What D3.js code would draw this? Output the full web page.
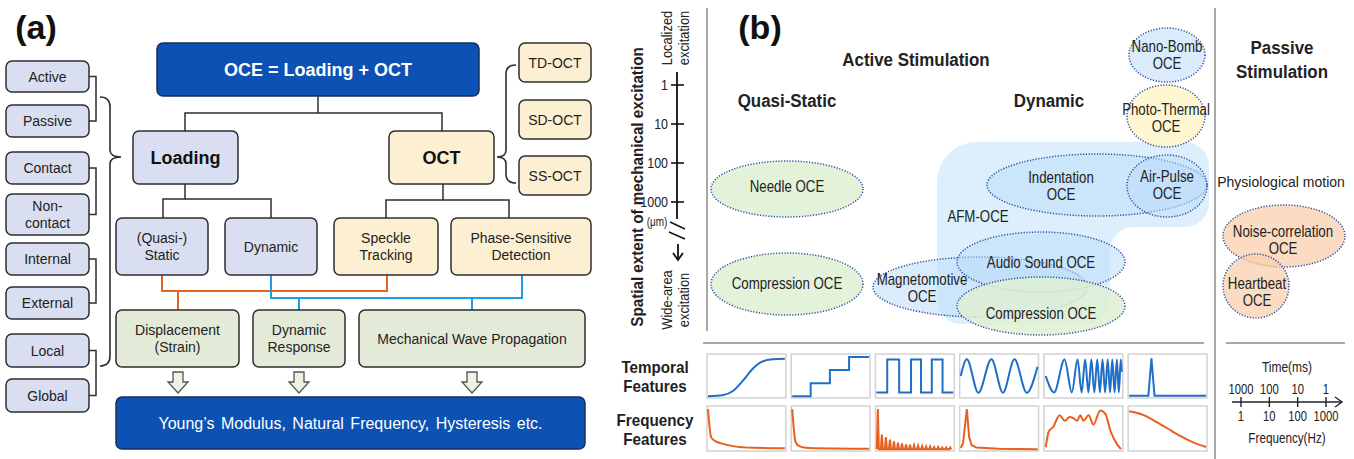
<!DOCTYPE html>
<html><head><meta charset="utf-8">
<script src="https://cdn.jsdelivr.net/npm/d3@7"></script>
<style>
html,body{margin:0;padding:0;background:#fff;}
svg{display:block;}
</style></head><body>
<svg id="fig" width="1354" height="459"></svg>
<script>
// ---------------- data ----------------
const factorLabels = ["Active", "Passive", "Contact", "Non-\ncontact", "Internal", "External", "Local", "Global"];
const octTypes = ["TD-OCT", "SD-OCT", "SS-OCT"];
const loadingModes = ["(Quasi-)\nStatic", "Dynamic"];
const detectionModes = ["Speckle\nTracking", "Phase-Sensitive\nDetection"];
const measurements = ["Displacement\n(Strain)", "Dynamic\nResponse", "Mechanical Wave Propagation"];
const outcome = "Young’s Modulus, Natural Frequency, Hysteresis etc.";

const extentTicks = [1, 10, 100, 1000];          // μm
const timeTicks = [1000, 100, 10, 1];             // ms
const freqTicks = [1, 10, 100, 1000];             // Hz

const methodNames = ["Needle OCE", "Compression OCE", "Magnetomotive\nOCE", "Audio Sound OCE",
  "Compression OCE", "Indentation\nOCE", "Air-Pulse\nOCE", "Nano-Bomb\nOCE", "Photo-Thermal\nOCE",
  "Noise-correlation\nOCE", "Heartbeat\nOCE"];
const methodKinds = ["static", "static", "dynamic", "dynamic", "static", "dynamic", "dynamic",
  "dynamic", "thermal", "passive", "passive"];

const signalNames = ["ramp", "step", "square", "sine", "chirp", "pulse"];
// temporal waveforms: [normalised time, normalised amplitude]
const temporalRamp = [[0, .02], [.2, .05], [.33, .15], [.46, .4], [.57, .65], [.69, .83], [.84, .9], [1, .91]];
const temporalStep = [[0, .02], [.24, .33], [.49, .64], [.74, .95], [1, .95]];
const temporalSquare = [[0, .11], [.14, .89], [.295, .11], [.45, .89], [.58, .11], [.72, .89], [.86, .11], [1, .11]];
const temporalSine = [[0, .5], [.08, .9], [.23, .1], [.4, .9], [.55, .1], [.7, .9], [.86, .1], [1, .72]];
const temporalChirp = [[.01, .5], [.12, .11], [.255, .89], [.35, .11], [.425, .89], [.477, .11], [.523, .89],
  [.566, .11], [.604, .89], [.643, .11], [.681, .89], [.715, .11], [.749, .89], [.783, .11], [.817, .89],
  [.847, .11], [.877, .89], [.906, .11], [.936, .89], [.962, .11], [.987, .89], [1, .6]];
const temporalPulse = [[0, .03], [.25, .03], [.29, .92], [.33, .03], [1, .03]];
// frequency spectra: [normalised frequency, normalised magnitude]
const spectrumRamp = [[0, .95], [.04, .3], [.1, .2], [.16, .16], [.33, .09], [.59, .05], [1, .04]];
const spectrumStep = [[0, .95], [.02, .5], [.04, .2], [.08, .1], [.15, .06], [.3, .04], [1, .03]];
const squareHarmonics = [.95, .36, .3, .24, .2, .17, .15, .13, .12, .11, .1, .09, .08, .08, .07, .07, .06, .06, .06];
const spectrumSine = [[0, .05], [.03, .15], [.08, .95], [.11, .3], [.14, .12], [.2, .06], [.5, .03], [1, .02]];
const spectrumChirp = [[.01, .06], [.05, .43], [.11, .54], [.19, .81], [.26, .68], [.32, .77], [.37, .74], [.42, .68],
  [.46, .81], [.5, .68], [.57, .81], [.63, .59], [.72, .92], [.79, .83], [.85, .46], [.94, .13], [.99, .02]];
const spectrumPulse = [[0, .9], [.16, .83], [.33, .68], [.5, .5], [.67, .32], [.84, .17], [1, .07]];

// ---------------- drawing ----------------
const svg = d3.select("#fig");
svg.append("rect").attr("width", 1354).attr("height", 459).attr("fill", "#fff");
const FA = "'Liberation Sans', Arial, Helvetica, sans-serif";
const INK = "#222";
const C = {
  navy: "#0b52b4", lav: "#d9dff1", beige: "#fdf0d2", green: "#e3ebd8",
  orange: "#e2641e", sky: "#1c9cea", edge: "#2e2e2e", sep: "#a8a8a8",
  sigBlue: "#1f6fc8", sigOrange: "#e8601c"
};

// multi-line centred text; `sx` condenses the glyphs horizontally (narrow face look)
function addText(g, x, y, str, o = {}) {
  const size = o.size || 14;
  const lines = str.split("\n");
  const lh = o.lh || size * 1.2;
  const holder = g.append("g")
    .attr("transform", `translate(${x},${y}) rotate(${o.rotate || 0}) scale(${o.sx || 1},1)`);
  const t = holder.append("text").attr("x", 0).attr("y", 0)
    .attr("text-anchor", o.anchor || "middle")
    .attr("font-family", FA)
    .attr("font-size", size)
    .attr("font-weight", o.weight || "normal")
    .attr("fill", o.color || INK);
  if (o.spacing) t.attr("word-spacing", o.spacing);
  lines.forEach((ln, i) => {
    t.append("tspan").attr("x", 0)
      .attr("dy", i === 0 ? (-(lines.length - 1) / 2) * lh + size * 0.36 : lh)
      .text(ln);
  });
  return t;
}
function box(g, b, fill, label, o = {}) {
  g.append("rect").attr("x", b[0]).attr("y", b[1]).attr("width", b[2] - b[0]).attr("height", b[3] - b[1])
    .attr("rx", 6).attr("fill", fill).attr("stroke", o.stroke || C.edge).attr("stroke-width", 1.5);
  if (label) addText(g, (b[0] + b[2]) / 2, (b[1] + b[3]) / 2, label, o);
}
function poly(g, pts, color, w = 1.5) {
  g.append("path").attr("d", d3.line()(pts)).attr("fill", "none").attr("stroke", color).attr("stroke-width", w);
}

// ===== panel (a) =====
const A = svg.append("g");
addText(A, 36, 27, "(a)", { size: 34, weight: "bold", color: "#111" });

const factorBoxes = [[6, 61, 89, 92], [6, 105, 89, 137], [6, 152, 89, 184], [6, 194, 89, 235],
  [6, 243, 89, 275], [6, 287, 89, 319], [6, 334, 89, 367], [6, 379, 89, 412]];
factorLabels.forEach((lb, i) => box(A, factorBoxes[i], C.lav, lb, { size: 14, lh: 17 }));
// pair brackets
for (let i = 0; i < factorBoxes.length; i += 2) {
  const ya = (factorBoxes[i][1] + factorBoxes[i][3]) / 2, yb = (factorBoxes[i + 1][1] + factorBoxes[i + 1][3]) / 2;
  poly(A, [[89, ya], [96, ya], [96, yb], [89, yb]], C.edge);
}
// large brace toward "Loading"
A.append("path").attr("fill", "none").attr("stroke", C.edge).attr("stroke-width", 1.6)
  .attr("d", "M100,97 Q110,97 110,107 L110,150 Q110,157 121,157 Q110,157 110,164 L110,356 Q110,366 100,366");
// brace toward OCT
A.append("path").attr("fill", "none").attr("stroke", C.edge).attr("stroke-width", 1.6)
  .attr("d", "M516,65 Q506,65 506,74 L506,150 Q506,157 497,157 Q506,157 506,164 L506,174 Q506,183 516,183");

// tree connectors
poly(A, [[318, 96], [318, 113]], C.edge);
poly(A, [[185, 131], [185, 113], [442, 113], [442, 131]], C.edge);
poly(A, [[185, 184], [185, 199]], C.edge);
poly(A, [[163, 218], [163, 199], [271, 199], [271, 218]], C.edge);
poly(A, [[443, 184], [443, 200]], C.edge);
poly(A, [[386, 218], [386, 200], [509, 200], [509, 218]], C.edge);
// coloured routes
poly(A, [[162, 275], [162, 291], [387, 291], [387, 275]], C.orange, 2);
poly(A, [[178, 291], [178, 310]], C.orange, 2);
poly(A, [[271, 275], [271, 298], [522, 298], [522, 275]], C.sky, 2);
poly(A, [[299, 298], [299, 310]], C.sky, 2);
poly(A, [[472, 298], [472, 310]], C.sky, 2);

box(A, [157, 43, 479, 96], C.navy, "OCE = Loading + OCT", { size: 18, weight: "bold", color: "#fff", stroke: "#1a2f55" });
box(A, [133, 131, 238, 184], C.lav, "Loading", { size: 18, weight: "bold", color: "#111" });
box(A, [389, 131, 494, 184], C.beige, "OCT", { size: 18, weight: "bold", color: "#111" });
const octBoxes = [[519, 43, 591, 82], [519, 100, 591, 139], [519, 156, 591, 195]];
octTypes.forEach((t, i) => box(A, octBoxes[i], C.beige, t, { size: 14 }));
const loadBoxes = [[116, 218, 208, 275], [225, 218, 317, 275]];
loadingModes.forEach((t, i) => box(A, loadBoxes[i], C.lav, t, { size: 14, lh: 17 }));
const detBoxes = [[334, 218, 438, 275], [451, 218, 591, 275]];
detectionModes.forEach((t, i) => box(A, detBoxes[i], C.beige, t, { size: 14, lh: 17 }));
const measBoxes = [[116, 310, 239, 367], [253, 310, 345, 367], [359, 310, 585, 367]];
measurements.forEach((t, i) => box(A, measBoxes[i], C.green, t, { size: 14, lh: 17 }));
// hollow arrows
[178, 299, 472].forEach(cx => {
  const y0 = 372, yh = 382, y1 = 393;
  A.append("path").attr("fill", "#eef2e5").attr("stroke", "#555").attr("stroke-width", 1.3)
    .attr("d", `M${cx - 5},${y0}L${cx + 5},${y0}L${cx + 5},${yh}L${cx + 10},${yh}L${cx},${y1}L${cx - 10},${yh}L${cx - 5},${yh}Z`);
});
box(A, [116, 397, 585, 449], C.navy, outcome, { size: 16, color: "#fff", stroke: "#1a2f55", spacing: 2 });

// ===== panel (b) =====
const B = svg.append("g");
const NB = 0.89;   // condensing for bold headings
const NR = 0.83;   // condensing for regular labels
addText(B, 760, 27, "(b)", { size: 34, weight: "bold", color: "#111" });
// separators
poly(B, [[707, 8], [707, 331]], C.sep, 2);
poly(B, [[1215, 8], [1215, 459]], C.sep, 2);
poly(B, [[703, 343], [1204, 343]], C.sep, 2);
poly(B, [[1226, 343], [1345, 343]], C.sep, 2);

// spatial-extent axis
const yExt = d3.scaleLog().domain([1, 1000]).range([85, 202]);
poly(B, [[677, 72], [677, 219]], "#111", 1.8);
extentTicks.forEach(v => {
  poly(B, [[671, yExt(v)], [684, yExt(v)]], "#111", 1.6);
  addText(B, 668, yExt(v), String(v), { anchor: "end", size: 15, sx: NR });
});
addText(B, 657, 222, "(μm)", { size: 12, sx: NR });
poly(B, [[670, 222], [685, 229]], "#111", 1.4);
poly(B, [[669, 232], [685, 239]], "#111", 1.4);
poly(B, [[678, 244], [678, 258]], "#111", 1.8);
B.append("path").attr("fill", "none").attr("stroke", "#111").attr("stroke-width", 1.8)
  .attr("d", "M673,253 L678,260 L683,253");
addText(B, 637, 187, "Spatial extent of mechanical excitation", { size: 16, weight: "bold", rotate: -90, sx: 0.95 });
addText(B, 675, 38, "Localized\nexcitation", { size: 15, rotate: -90, lh: 17, sx: 0.86 });
addText(B, 675, 300, "Wide-area\nexcitation", { size: 15, rotate: -90, lh: 17, sx: 0.86 });

addText(B, 916, 59, "Active Stimulation", { size: 19, weight: "bold", sx: NB });
addText(B, 787, 100, "Quasi-Static", { size: 19, weight: "bold", sx: NB });
addText(B, 1049, 100, "Dynamic", { size: 19, weight: "bold", sx: NB });
addText(B, 1282, 59, "Passive\nStimulation", { size: 19, weight: "bold", lh: 24, sx: NB });
addText(B, 1281, 182, "Physiological motion", { size: 14 });

// AFM-OCE region
(function () {
  const x0 = 937, x1 = 1209, xm = 1110, y0 = 142, ym = 227, y1 = 324, R = 40, r = 24;
  const d = `M${x0},${y0 + R} A${R},${R} 0 0 1 ${x0 + R},${y0} L${x1 - r},${y0} A${r},${r} 0 0 1 ${x1},${y0 + r}` +
    ` L${x1},${ym - r} A${r},${r} 0 0 1 ${x1 - r},${ym} L${xm + r},${ym} A${r},${r} 0 0 0 ${xm},${ym + r}` +
    ` L${xm},${y1 - r} A${r},${r} 0 0 1 ${xm - r},${y1} L${x0 + r},${y1} A${r},${r} 0 0 1 ${x0},${y1 - r} Z`;
  B.append("path").attr("d", d).attr("fill", "#d2e9fb").attr("opacity", 0.75);
})();
addText(B, 978, 216, "AFM-OCE", { size: 16, sx: NR });

const kindFill = {
  static: ["#dff0d3", 0.85], dynamic: ["#bcdcf8", 0.55], thermal: ["#fff6d2", 1], passive: ["#f9cda8", 0.7]
};
// ellipse geometry [cx, cy, rx, ry, labelX, labelY]
const methodLayout = [
  [787, 189, 76, 28, 787, 186], [787, 284, 76, 31, 787, 283], [980, 287, 107, 30, 922, 288],
  [1041, 262, 84, 30, 1041, 262], [1041, 306, 84, 29, 1041, 313], [1097, 185, 110, 31, 1061, 186],
  [1167, 186, 40, 31, 1167, 185], [1167, 55, 38, 27, 1167, 55], [1166, 116, 39, 31, 1166, 118],
  [1284, 236, 61, 31, 1283, 240], [1256, 286, 33, 32, 1257, 292]
];
methodLayout.forEach((L, i) => {
  const [cx, cy, rx, ry] = L;
  const [fill, op] = kindFill[methodKinds[i]];
  B.append("ellipse").attr("cx", cx).attr("cy", cy).attr("rx", rx).attr("ry", ry)
    .attr("fill", fill).attr("fill-opacity", op)
    .attr("stroke", "#2f4f9f").attr("stroke-width", 1.5).attr("stroke-dasharray", "1.2 1.6");
});
methodLayout.forEach((L, i) => {
  addText(B, L[4], L[5], methodNames[i], { size: 16, lh: 17, sx: NR });
});

// feature thumbnails
const xBand = d3.scaleBand().domain(signalNames).range([707, 1207]).paddingInner(0.064);
const rows = [[354, 398], [406, 451]];
const temporal = [temporalRamp, temporalStep, temporalSquare, temporalSine, temporalChirp, temporalPulse];
const squareSpectrum = [];
const hx = d3.scaleLinear().domain([0, squareHarmonics.length]).range([0.005, 1]);
squareHarmonics.forEach((a, k) => {
  squareSpectrum.push([hx(k), .02]);
  squareSpectrum.push([hx(k + 0.25), a]);
  squareSpectrum.push([hx(k + 0.5), .02]);
});
const spectra = [spectrumRamp, spectrumStep, squareSpectrum, spectrumSine, spectrumChirp, spectrumPulse];
const tCurves = [d3.curveMonotoneX, d3.curveStepAfter, d3.curveStepAfter, d3.curveMonotoneX, d3.curveMonotoneX, d3.curveLinear];
const fCurves = [d3.curveMonotoneX, d3.curveMonotoneX, d3.curveLinear, d3.curveLinear, d3.curveMonotoneX, d3.curveMonotoneX];

signalNames.forEach((s, i) => {
  const x0 = xBand(s), x1 = x0 + xBand.bandwidth();
  [[temporal[i], tCurves[i], C.sigBlue, rows[0]], [spectra[i], fCurves[i], C.sigOrange, rows[1]]].forEach(([data, curve, col, r]) => {
    B.append("rect").attr("x", x0).attr("y", r[0]).attr("width", x1 - x0).attr("height", r[1] - r[0])
      .attr("fill", "#fff").attr("stroke", "#d2d2d2").attr("stroke-width", 1.5);
    const sx = d3.scaleLinear().domain([0, 1]).range([x0 + 1, x1 - 1]);
    const sy = d3.scaleLinear().domain([0, 1]).range([r[1] - 1, r[0] + 1]);
    B.append("path").attr("fill", "none").attr("stroke", col).attr("stroke-width", 2)
      .attr("d", d3.line().x(d => sx(d[0])).y(d => sy(d[1])).curve(curve)(data));
  });
});
addText(B, 655, 377, "Temporal\nFeatures", { size: 16, weight: "bold", lh: 19, sx: 0.95 });
addText(B, 655, 430, "Frequency\nFeatures", { size: 16, weight: "bold", lh: 19, sx: 0.95 });

// time / frequency scale
const xTF = d3.scaleLog().domain([1, 1000]).range([1241, 1326]);
poly(B, [[1232, 402], [1341, 402]], "#222", 1.4);
B.append("path").attr("fill", "none").attr("stroke", "#222").attr("stroke-width", 1.4)
  .attr("d", "M1335,397 L1342,402 L1335,407");
freqTicks.forEach((f, i) => {
  const x = xTF(f);
  poly(B, [[x, 397], [x, 407]], "#222", 1.4);
  addText(B, x, 416, String(f), { size: 15, sx: 0.75 });
  addText(B, x, 389, String(timeTicks[i]), { size: 15, sx: 0.75 });
});
addText(B, 1287, 367, "Time(ms)", { size: 15, sx: 0.8 });
addText(B, 1287, 438, "Frequency(Hz)", { size: 15, sx: 0.78 });
</script>
</body></html>
